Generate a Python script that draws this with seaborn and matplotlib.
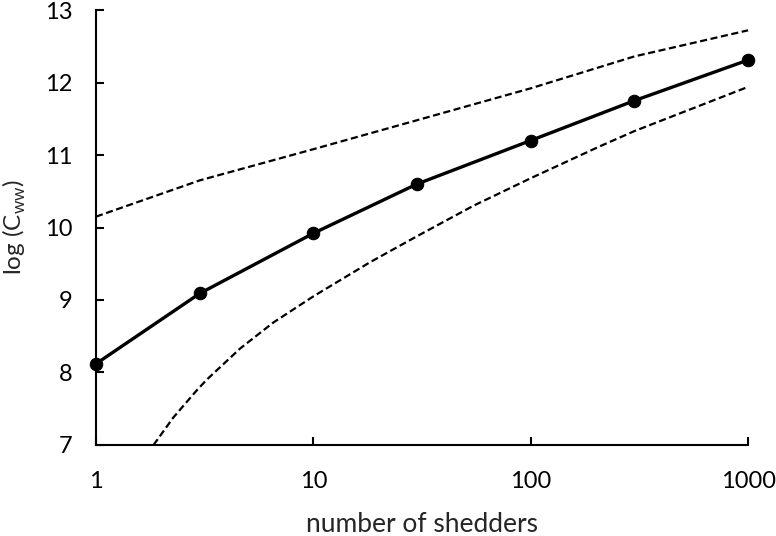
import matplotlib
matplotlib.use("Agg")
import matplotlib.pyplot as plt
from matplotlib.ticker import FixedLocator, FixedFormatter, NullLocator
import seaborn as sns

# values
shedders = [1, 3, 10, 30, 100, 300, 1000]
log_cww = [8.12, 9.09, 9.92, 10.60, 11.20, 11.75, 12.31]

upper_x = [1, 3, 10, 30, 100, 300, 1000]
upper_y = [10.15, 10.65, 11.08, 11.48, 11.92, 12.36, 12.72]

lower_x = [1.84, 2.27, 2.92, 3.23, 4.6, 6.55, 10, 18.2, 30, 54.5, 100, 208, 300, 1000]
lower_y = [7.0, 7.38, 7.76, 7.90, 8.33, 8.69, 9.05, 9.52, 9.88, 10.3, 10.68, 11.12, 11.33, 11.94]

xticks = [1, 10, 100, 1000]
xtick_labels = ["1", "10", "100", "1000"]
yticks = [7, 8, 9, 10, 11, 12, 13]

sns.set_style("ticks")
plt.rcParams["font.family"] = ["Lato", "DejaVu Sans"]
plt.rcParams["mathtext.fontset"] = "custom"
plt.rcParams["mathtext.rm"] = "Lato"

fig = plt.figure(figsize=(7.76, 5.36), dpi=100)
ax = fig.add_axes([0.1237, 0.1698, 0.8403, 0.8115])

dash = (0, (3.2, 1.6))
sns.lineplot(x=upper_x, y=upper_y, ax=ax, color="black", lw=1.6, linestyle=dash)
sns.lineplot(x=lower_x, y=lower_y, ax=ax, color="black", lw=1.6, linestyle=dash)
sns.lineplot(x=shedders, y=log_cww, ax=ax, color="black", lw=2.4,
             marker="o", markersize=9, markeredgecolor="black")

ax.set_xscale("log")
ax.set_xlim(1, 1000)
ax.set_ylim(7, 13)
ax.xaxis.set_major_locator(FixedLocator(xticks))
ax.xaxis.set_major_formatter(FixedFormatter(xtick_labels))
ax.xaxis.set_minor_locator(NullLocator())
ax.set_yticks(yticks)

for ln in ax.lines:
    ln.set_clip_on(False)

sns.despine(ax=ax)
for s in ["left", "bottom"]:
    ax.spines[s].set_linewidth(1.5)
    ax.spines[s].set_color("black")
ax.tick_params(direction="in", length=6, width=1.5, labelsize=17,
               colors="black")
ax.tick_params(axis="x", pad=19)
ax.tick_params(axis="y", pad=17)

ax.set_xlabel("number of shedders", fontsize=19, labelpad=14)
ax.set_ylabel(r"log (C$_{\mathregular{ww}}$)", fontsize=17.5, labelpad=12)

fig.savefig("out.png", dpi=100)
